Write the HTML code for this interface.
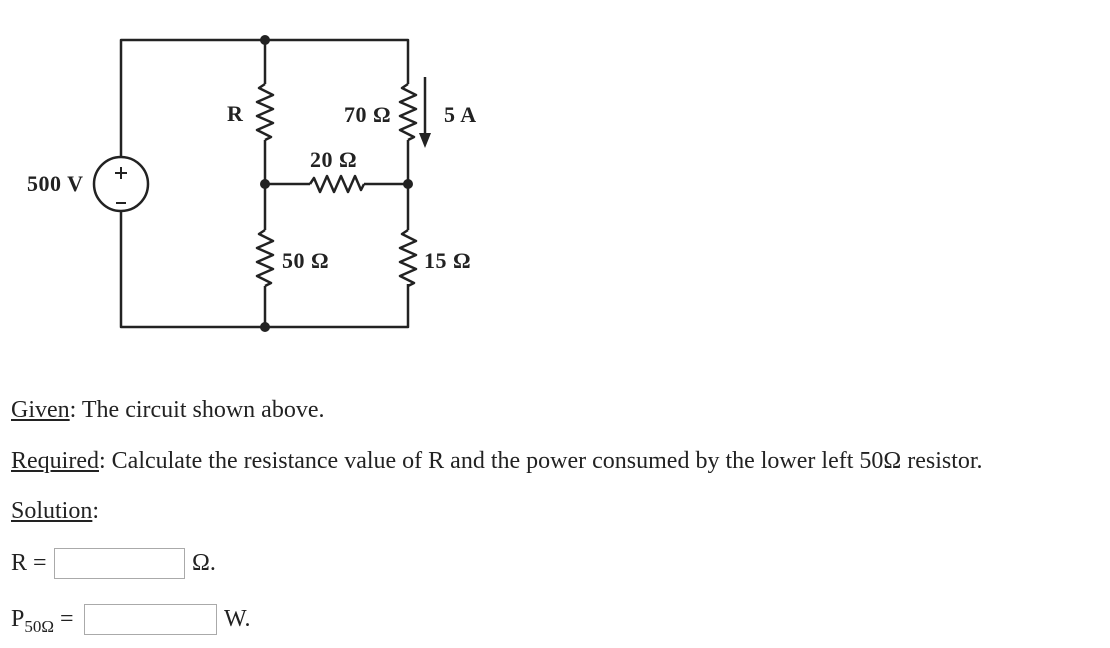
<!DOCTYPE html>
<html><head><meta charset="utf-8"><style>
body{margin:0;width:1110px;height:648px;background:#fff;position:relative;overflow:hidden;font-family:"Liberation Serif",serif;color:#222}
.t{position:absolute;font-size:24px;white-space:nowrap;line-height:28px}
u{text-decoration:underline}
.box{position:absolute;border:1px solid #aaa;background:#fff;height:29px}
svg text{font-family:"Liberation Serif",serif;font-weight:bold;font-size:22px;fill:#222;letter-spacing:0.5px}
</style></head><body>
<svg width="1110" height="360" style="position:absolute;left:0;top:0" viewBox="0 0 1110 360">
<g stroke="#222" stroke-width="2.5" fill="none" stroke-linejoin="round">
<polyline points="121,157 121,40 408,40 408,84"/>
<polyline points="121,211 121,327 408,327 408,284"/>
<line x1="265" y1="40" x2="265" y2="84"/>
<line x1="265" y1="140" x2="265" y2="230"/>
<line x1="265" y1="286" x2="265" y2="327"/>
<line x1="408" y1="140" x2="408" y2="230"/>
<line x1="265" y1="184" x2="310" y2="184"/>
<line x1="364" y1="184" x2="408" y2="184"/>
<polyline points="265,84 259,88 273,95 257,102 273,109 257,116 273,123 257,130 271,137 265,140"/>
<polyline points="408,84 402,88 416,95 400,102 416,109 400,116 416,123 400,130 414,137 408,140"/>
<polyline points="265,230 259,234 273,241 257,248 273,255 257,262 273,269 257,276 271,283 265,286"/>
<polyline points="408,230 402,234 416,241 400,248 416,255 400,262 416,269 400,276 414,283 408,286"/>
<polyline points="310,184 314,178 320,192 327,176 334,192 341,176 348,192 355,176 361,190 364,184"/>
<circle cx="121" cy="184" r="27"/>
<line x1="425" y1="77" x2="425" y2="135"/>
</g>
<polygon points="419,133 431,133 425,148" fill="#222"/>
<g fill="#222"><circle cx="265" cy="40" r="5"/><circle cx="265" cy="184" r="5"/><circle cx="408" cy="184" r="5"/><circle cx="265" cy="327" r="5"/></g>
<line x1="115" y1="173" x2="127" y2="173" stroke="#222" stroke-width="2"/>
<line x1="121" y1="167" x2="121" y2="179" stroke="#222" stroke-width="2"/>
<line x1="116" y1="203" x2="126" y2="203" stroke="#222" stroke-width="2"/>
<text x="27" y="191" letter-spacing="1.5">500 V</text>
<text x="227" y="121" font-size="26">R</text>
<text x="344" y="122">70 Ω</text>
<text x="444" y="122">5 A</text>
<text x="310" y="167">20 Ω</text>
<text x="282" y="268">50 Ω</text>
<text x="424" y="268">15 Ω</text>
</svg>
<div class="t" style="left:11px;top:396px"><u>Given</u>: The circuit shown above.</div>
<div class="t" style="left:11px;top:447px"><u>Required</u>: Calculate the resistance value of R and the power consumed by the lower left 50Ω resistor.</div>
<div class="t" style="left:11px;top:497px"><u>Solution</u>:</div>
<div class="t" style="left:11px;top:549px">R =</div>
<div class="box" style="left:54px;top:548px;width:129px"></div>
<div class="t" style="left:192px;top:549px">Ω.</div>
<div class="t" style="left:11px;top:605px">P<sub style="font-size:17px">50Ω</sub> =</div>
<div class="box" style="left:84px;top:604px;width:131px"></div>
<div class="t" style="left:224px;top:605px">W.</div>
</body></html>
